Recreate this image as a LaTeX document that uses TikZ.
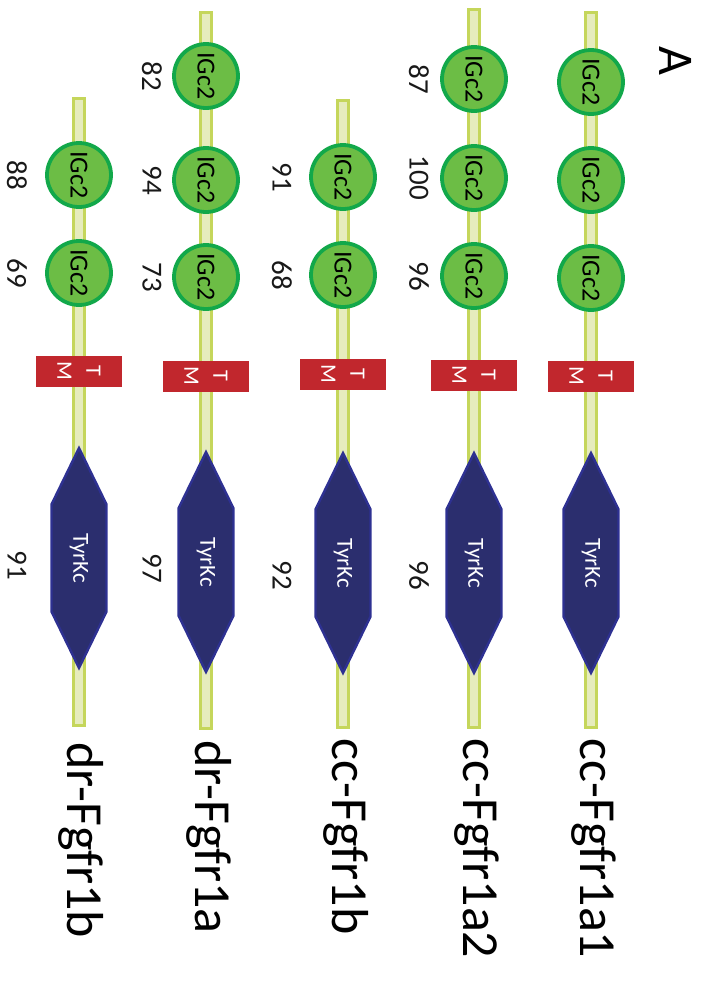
\documentclass[tikz,border=0pt]{standalone}
\usepackage{fontspec}
\setmainfont{Carlito}
\usetikzlibrary{shapes}
\definecolor{rodline}{HTML}{C5D65B}
\definecolor{rodfill}{HTML}{E6ECBD}
\definecolor{igfill}{HTML}{6CBD45}
\definecolor{igline}{HTML}{12A84A}
\definecolor{tmred}{HTML}{C1272D}
\definecolor{tkfill}{HTML}{2B2E6E}
\definecolor{tkline}{HTML}{2E3192}
\tikzset{
  rod/.style={draw=rodline, fill=rodfill, line width=1.5pt},
  igdom/.style={circle, draw=igline, fill=igfill, line width=1.9pt,
    minimum size=32pt, inner sep=0, rotate=-90,
    font=\fontsize{13}{13}\selectfont},
  tmdom/.style={rectangle, fill=tmred, minimum width=15.5pt,
    minimum height=43pt, inner sep=0, rotate=-90, text=white,
    align=center, font=\fontsize{11}{14.5}\selectfont},
  tkdom/.style={signal, signal to=east and west, signal pointer angle=52,
    draw=tkline, fill=tkfill, line width=1.2pt, minimum width=110pt,
    minimum height=27.5pt, inner sep=0, rotate=-90, text=white,
    font=\fontsize{11.5}{12}\selectfont},
  ident/.style={rotate=-90, inner sep=0, text=black!90,
    font=\fontsize{14.5}{15}\selectfont},
  protname/.style={rotate=-90, anchor=base west, inner sep=0,
    font=\fontsize{26}{26}\selectfont}
}
\begin{document}
\begin{tikzpicture}[x=0.5pt,y=0.5pt]
\useasboundingbox (0,0) rectangle (704,-1007);
\node[rotate=-90, inner sep=0, font=\fontsize{25}{25}\selectfont] (panel) at (676,-61) {A};

\coordinate (r1a) at (585.5,-12);
\coordinate (r1b) at (596.5,-727);
\draw[rod] (r1a) rectangle (r1b);
\node[igdom] (ig11) at (591,-82) {IGc2};
\node[igdom] (ig12) at (591,-180) {IGc2};
\node[igdom] (ig13) at (591,-278) {IGc2};
\node[tmdom] (tm1) at (591,-376) {T\\M};
\node[tkdom] (tk1) at (591,-563) {TyrKc};
\node[protname] (name1) at (580,-738) {cc-Fgfr1a1};

\coordinate (r2a) at (468.5,-9);
\coordinate (r2b) at (479.5,-727);
\draw[rod] (r2a) rectangle (r2b);
\node[igdom] (ig21) at (474,-79) {IGc2};
\node[igdom] (ig22) at (474,-178) {IGc2};
\node[igdom] (ig23) at (474,-276) {IGc2};
\node[tmdom] (tm2) at (474,-375) {T\\M};
\node[tkdom] (tk2) at (474,-563) {TyrKc};
\node[ident] (id21) at (419,-79) {87};
\node[ident] (id22) at (419,-178) {100};
\node[ident] (id23) at (419,-276) {96};
\node[ident] (id24) at (419,-575) {96};
\node[protname] (name2) at (463,-738) {cc-Fgfr1a2};

\coordinate (r3a) at (337.5,-100);
\coordinate (r3b) at (348.5,-727);
\draw[rod] (r3a) rectangle (r3b);
\node[igdom] (ig31) at (343,-177) {IGc2};
\node[igdom] (ig32) at (343,-275) {IGc2};
\node[tmdom] (tm3) at (343,-374) {T\\M};
\node[tkdom] (tk3) at (343,-563) {TyrKc};
\node[ident] (id31) at (282,-177) {91};
\node[ident] (id32) at (282,-275) {68};
\node[ident] (id33) at (282,-575) {92};
\node[protname] (name3) at (332,-738) {cc-Fgfr1b};

\coordinate (r4a) at (200.5,-12);
\coordinate (r4b) at (211.5,-728);
\draw[rod] (r4a) rectangle (r4b);
\node[igdom] (ig41) at (206,-76) {IGc2};
\node[igdom] (ig42) at (206,-180) {IGc2};
\node[igdom] (ig43) at (206,-277) {IGc2};
\node[tmdom] (tm4) at (206,-376) {T\\M};
\node[tkdom] (tk4) at (206,-562) {TyrKc};
\node[ident] (id41) at (152,-76) {82};
\node[ident] (id42) at (152,-180) {94};
\node[ident] (id43) at (152,-277) {73};
\node[ident] (id44) at (152,-568) {97};
\node[protname] (name4) at (195,-740) {dr-Fgfr1a};

\coordinate (r5a) at (73.5,-98);
\coordinate (r5b) at (84.5,-725);
\draw[rod] (r5a) rectangle (r5b);
\node[igdom] (ig51) at (79,-175) {IGc2};
\node[igdom] (ig52) at (79,-273) {IGc2};
\node[tmdom] (tm5) at (79,-371) {T\\M};
\node[tkdom] (tk5) at (79,-558) {TyrKc};
\node[ident] (id51) at (17,-175) {88};
\node[ident] (id52) at (17,-273) {69};
\node[ident] (id53) at (17,-565) {91};
\node[protname] (name5) at (68,-742) {dr-Fgfr1b};
\end{tikzpicture}
\end{document}
